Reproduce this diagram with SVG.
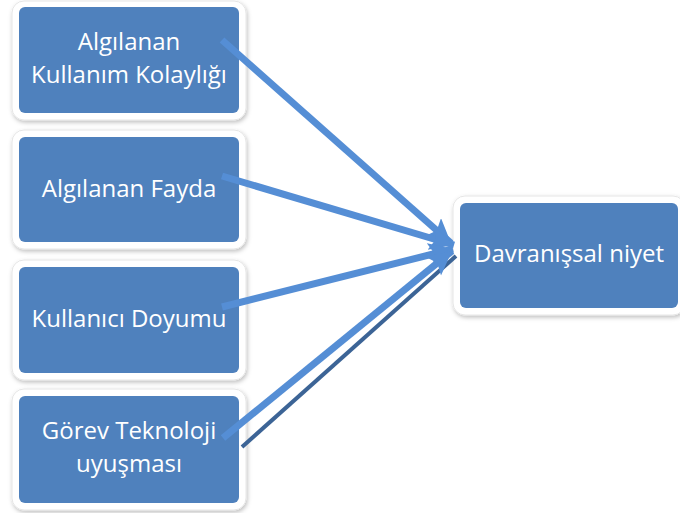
<svg xmlns="http://www.w3.org/2000/svg" width="680" height="513" viewBox="0 0 680 513">
<defs>
<style>
.frame{fill:#ffffff;stroke:#e6e6e6;stroke-width:1;filter:url(#sh)}
.box{fill:#4F81BD}
.t{fill:#ffffff;font-family:"Open Sans","Liberation Sans",sans-serif;font-size:24px;text-anchor:middle}
.arr{stroke:#558ED5;stroke-width:7;fill:none;marker-end:url(#ah)}
.dk{stroke:#3C6496;stroke-width:4;fill:none}
</style>
<filter id="sh" x="-10%" y="-10%" width="120%" height="130%">
<feDropShadow dx="1" dy="2" stdDeviation="2" flood-color="#000000" flood-opacity="0.25"/>
</filter>
<marker id="ah" markerUnits="userSpaceOnUse" markerWidth="28" markerHeight="26" refX="24" refY="12" orient="auto">
<path d="M0,0 L24,12 L0,24 L5,12 Z" fill="#558ED5"/>
</marker>
</defs>
<g id="n1">
<rect class="frame" x="12" y="1" width="234" height="119" rx="12"/>
<rect class="box" x="19" y="7" width="220" height="106" rx="6"/>
<text class="t" x="129" y="50">Algılanan</text>
<text class="t" x="129" y="83">Kullanım Kolaylığı</text>
</g>
<g id="n2">
<rect class="frame" x="12" y="130" width="234" height="119" rx="12"/>
<rect class="box" x="19" y="137" width="220" height="105" rx="6"/>
<text class="t" x="129" y="197">Algılanan Fayda</text>
</g>
<g id="n3">
<rect class="frame" x="12" y="260" width="234" height="120" rx="12"/>
<rect class="box" x="19" y="267" width="220" height="106" rx="6"/>
<text class="t" x="129" y="327">Kullanıcı Doyumu</text>
</g>
<g id="n4">
<rect class="frame" x="12" y="389" width="234" height="121" rx="12"/>
<rect class="box" x="19" y="396" width="220" height="107" rx="6"/>
<text class="t" x="129" y="439">Görev Teknoloji</text>
<text class="t" x="129" y="472">uyuşması</text>
</g>
<g id="n5">
<rect class="frame" x="453" y="196" width="232" height="119" rx="12"/>
<rect class="box" x="460" y="203" width="218" height="105" rx="6"/>
<text class="t" x="569" y="262">Davranışsal niyet</text>
</g>
<g id="connectors">
<line class="dk" x1="242" y1="447" x2="456" y2="256"/>
<line class="arr" x1="222" y1="40" x2="451" y2="243"/>
<line class="arr" x1="222" y1="176" x2="454" y2="245"/>
<line class="arr" x1="222" y1="307" x2="453" y2="249"/>
<line class="arr" x1="223" y1="438" x2="452" y2="251"/>
</g>
</svg>
